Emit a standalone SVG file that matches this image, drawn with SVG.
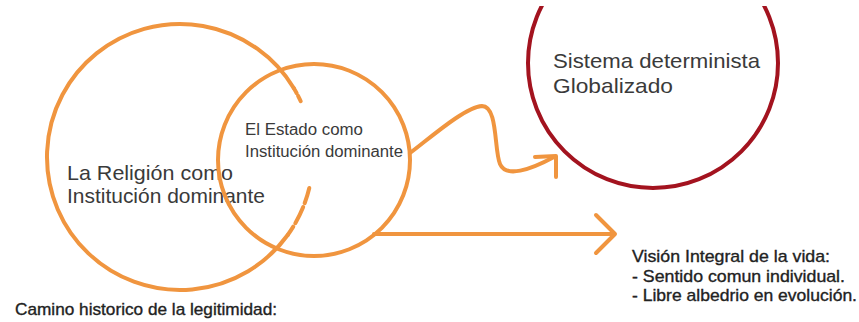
<svg xmlns="http://www.w3.org/2000/svg" width="859" height="322" viewBox="0 0 859 322">
  <defs>
    <style>
      .orange { fill: none; stroke: #F0953F; stroke-width: 4; stroke-linecap: round; stroke-linejoin: round; }
      .red { fill: none; stroke: #A3131F; stroke-width: 4; }
      .t { font-family: "Liberation Sans", Arial, sans-serif; fill: #3a3a3a; }
      .t2 { font-family: "Liberation Sans", Arial, sans-serif; fill: #222; stroke: #222; stroke-width: 0.35; }
    </style>
    <clipPath id="topclip">
      <rect x="0" y="6" width="859" height="316"/>
    </clipPath>
  </defs>
  <rect width="859" height="322" fill="#ffffff"/>

  <g id="religion">
    <path class="orange" d="M287.7,235 A133,133 0 1 1 293.7,88"/>
    <path class="orange" d="M293.7,88 A133,133 0 0 1 301.5,103" stroke-dasharray="6 3" stroke-linecap="butt"/>
    <path class="orange" d="M309.3,188 A133,133 0 0 1 287.7,235" stroke-dasharray="16 4 18 4" stroke-linecap="butt"/>
    <text class="t" font-size="21" x="67" y="180" textLength="166" lengthAdjust="spacingAndGlyphs">La Religión como</text>
    <text class="t" font-size="21" x="67" y="203" textLength="198" lengthAdjust="spacingAndGlyphs">Institución dominante</text>
  </g>

  <g id="estado">
    <circle class="orange" cx="314" cy="160" r="96"/>
    <text class="t" font-size="16" x="245" y="135" textLength="118" lengthAdjust="spacingAndGlyphs">El Estado como</text>
    <text class="t" font-size="16" x="245" y="157" textLength="158" lengthAdjust="spacingAndGlyphs">Institución dominante</text>
  </g>

  <g id="sistema">
    <circle class="red" cx="653" cy="63" r="125" clip-path="url(#topclip)"/>
    <text class="t" font-size="21" x="553" y="68" textLength="207" lengthAdjust="spacingAndGlyphs">Sistema determinista</text>
    <text class="t" font-size="21" x="553" y="93" textLength="120" lengthAdjust="spacingAndGlyphs">Globalizado</text>
  </g>

  <g id="vision">
    <text class="t2" font-size="17" x="632" y="262" textLength="198" lengthAdjust="spacingAndGlyphs">Visión Integral de la vida:</text>
    <text class="t2" font-size="17" x="632" y="281.5" textLength="213" lengthAdjust="spacingAndGlyphs">- Sentido comun individual.</text>
    <text class="t2" font-size="17" x="632" y="300.5" textLength="225" lengthAdjust="spacingAndGlyphs">- Libre albedrio en evolución.</text>
  </g>

  <g id="caption">
    <text class="t2" font-size="17" x="15" y="315" textLength="262" lengthAdjust="spacingAndGlyphs">Camino historico de la legitimidad:</text>
  </g>

  <g id="connectors">
    <path class="orange" d="M410,153 C430,138 465,107 482,106 C498,106 494,150 500,164 C506,178 530,170 554,157"/>
    <polyline class="orange" points="535,157 556,156 556,177"/>
    <line class="orange" x1="374" y1="234" x2="614" y2="234"/>
    <polyline class="orange" points="596,215 615,234 596,253"/>
  </g>
</svg>
